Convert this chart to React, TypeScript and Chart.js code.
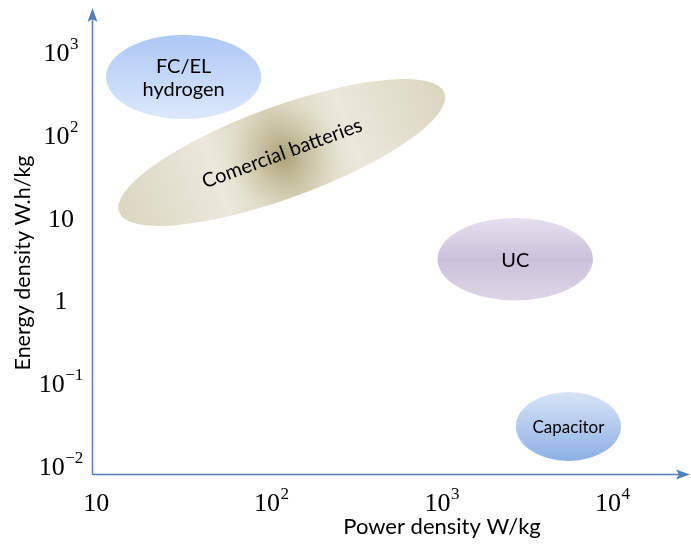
import React, { useEffect, useRef } from "react";
import { Chart, registerables } from "chart.js";

Chart.register(...registerables);

// ---- axis ticks ----
const xTicks = [10, 100, 1000, 10000];
const xTickBases = ["10", "10", "10", "10"];
const xTickExponents = ["", "2", "3", "4"];
const yTicks = [0.01, 0.1, 1, 10, 100, 1000];
const yTickBases = ["10", "10", "1", "10", "10", "10"];
const yTickExponents = ["\u22122", "\u22121", "", "", "2", "3"];

const xTitle = "Power density W/kg";
const yTitle = "Energy density W.h/kg";

// ---- axis ranges (log scales) ----
const xRange = [9.44, 30200];
const yRange = [0.008, 3400];

// ---- regions (Ragone areas) ----
const regionNames = ["FC/EL\nhydrogen", "Comercial batteries", "UC", "Capacitor"];
// power density extent, W/kg (for tilted regions: the two tips of the major axis)
const powerMin = [11.4, 13.6, 1000, 2880];
const powerMax = [92.7, 1100, 8150, 11900];
// energy density extent, W.h/kg
const energyMin = [155, 11.7, 1.0, 0.0115];
const energyMax = [1600, 320, 9.9, 0.078];
// tilted regions: half thickness, in decades of energy density at the centre
const regionTilted = [false, true, false, false];
const energySpreadDecades = [0, 0.59, 0, 0];

const AXIS_COLOR = "#4f81bd";
const SANS = "Lato, 'Liberation Sans', sans-serif";
const SERIF = "'Liberation Serif', 'DejaVu Serif', serif";

const regionStyles = [
  { type: "vertical", stops: [[0, "#adc8f5"], [1, "#dde8fb"]], font: 20 },
  { type: "battery", stops: [], font: 20 },
  { type: "vertical", stops: [[0, "#e6e1ee"], [0.5, "#cbc1db"], [1, "#ddd6e6"]], font: 20 },
  { type: "vertical", stops: [[0, "#d8e4f5"], [1, "#8cb0e4"]], font: 17 },
];

const ragonePlugin = {
  id: "ragone",
  beforeDatasetsDraw(chart: any) {
    const ctx: CanvasRenderingContext2D = chart.ctx;
    const xs = chart.scales.x;
    const ys = chart.scales.y;
    regionNames.forEach((name, i) => {
      const st = regionStyles[i];
      const x1 = xs.getPixelForValue(powerMin[i]);
      const x2 = xs.getPixelForValue(powerMax[i]);
      const y1 = ys.getPixelForValue(energyMin[i]);
      const y2 = ys.getPixelForValue(energyMax[i]);
      const cx = (x1 + x2) / 2;
      const cy = (y1 + y2) / 2;
      let angle = 0;
      ctx.save();
      if (!regionTilted[i]) {
        const rx = Math.abs(x2 - x1) / 2;
        const ry = Math.abs(y2 - y1) / 2;
        const top = Math.min(y1, y2);
        const g = ctx.createLinearGradient(0, top, 0, top + 2 * ry);
        st.stops.forEach((s: any) => g.addColorStop(s[0], s[1]));
        ctx.beginPath();
        ctx.ellipse(cx, cy, rx, ry, 0, 0, Math.PI * 2);
        ctx.fillStyle = g;
        ctx.fill();
      } else {
        const dx = x2 - x1;
        const dy = y2 - y1;
        const a = Math.sqrt(dx * dx + dy * dy) / 2;
        angle = Math.atan2(dy, dx);
        const centreVal = Math.sqrt(energyMin[i] * energyMax[i]);
        const t = Math.abs(
          ys.getPixelForValue(centreVal * Math.pow(10, energySpreadDecades[i])) -
            ys.getPixelForValue(centreVal)
        );
        const b = t * Math.cos(angle);
        ctx.translate(cx, cy);
        ctx.rotate(angle);
        ctx.beginPath();
        ctx.ellipse(0, 0, a, b, 0, 0, Math.PI * 2);
        const lg = ctx.createLinearGradient(-a, 0, a, 0);
        lg.addColorStop(0, "#dbd6c0");
        lg.addColorStop(0.3, "#ebe8dc");
        lg.addColorStop(0.5, "#d8d2b8");
        lg.addColorStop(0.7, "#ebe8dc");
        lg.addColorStop(1, "#dbd6c0");
        ctx.fillStyle = lg;
        ctx.fill();
        ctx.clip();
        const rg = ctx.createRadialGradient(0, 4, 0, 0, 4, 56);
        rg.addColorStop(0, "rgba(160,148,100,0.8)");
        rg.addColorStop(0.5, "rgba(175,165,122,0.4)");
        rg.addColorStop(1, "rgba(190,182,145,0)");
        ctx.fillStyle = rg;
        ctx.fillRect(-a, -b, 2 * a, 2 * b);
        ctx.setTransform(1, 0, 0, 1, 0, 0);
      }
      ctx.restore();

      // label
      ctx.save();
      ctx.translate(cx, cy);
      ctx.rotate(angle);
      ctx.fillStyle = "#000";
      ctx.font = `${st.font}px ${SANS}`;
      ctx.textAlign = "center";
      ctx.textBaseline = "middle";
      const lines = name.split("\n");
      const lh = 23;
      lines.forEach((ln, k) => {
        ctx.fillText(ln, 0, (k - (lines.length - 1) / 2) * lh + 1);
      });
      ctx.restore();
    });
  },
  afterDraw(chart: any) {
    const ctx: CanvasRenderingContext2D = chart.ctx;
    const xs = chart.scales.x;
    const ys = chart.scales.y;
    const area = chart.chartArea;
    const ox = Math.round(area.left) + 0.5;
    const oy = Math.round(area.bottom) + 0.5;
    ctx.save();
    // axes
    ctx.strokeStyle = AXIS_COLOR;
    ctx.fillStyle = AXIS_COLOR;
    ctx.lineWidth = 1.5;
    ctx.beginPath();
    ctx.moveTo(ox, oy);
    ctx.lineTo(ox, area.top + 10);
    ctx.moveTo(ox, oy);
    ctx.lineTo(area.right - 10, oy);
    ctx.stroke();
    // arrow heads
    ctx.beginPath();
    ctx.moveTo(ox, area.top);
    ctx.lineTo(ox - 5, area.top + 14);
    ctx.lineTo(ox, area.top + 11);
    ctx.lineTo(ox + 5, area.top + 14);
    ctx.closePath();
    ctx.fill();
    ctx.beginPath();
    ctx.moveTo(area.right, oy);
    ctx.lineTo(area.right - 14, oy - 5);
    ctx.lineTo(area.right - 11, oy);
    ctx.lineTo(area.right - 14, oy + 5);
    ctx.closePath();
    ctx.fill();

    // tick labels
    ctx.fillStyle = "#000";
    ctx.textBaseline = "alphabetic";
    const baseFont = `26px ${SERIF}`;
    const supFont = `17px ${SERIF}`;
    xTicks.forEach((v, i) => {
      const px = xs.getPixelForValue(v);
      ctx.font = baseFont;
      const w = ctx.measureText(xTickBases[i]).width;
      ctx.textAlign = "left";
      ctx.fillText(xTickBases[i], px - w / 2, 511);
      if (xTickExponents[i]) {
        ctx.font = supFont;
        ctx.fillText(xTickExponents[i], px + w / 2 + 0.5, 499);
      }
    });
    yTicks.forEach((v, i) => {
      const py = ys.getPixelForValue(v);
      ctx.font = baseFont;
      const w = ctx.measureText(yTickBases[i]).width;
      ctx.font = supFont;
      const ws = yTickExponents[i] ? ctx.measureText(yTickExponents[i]).width + 0.5 : 0;
      const left = 61 - (w + ws) / 2;
      ctx.textAlign = "left";
      ctx.font = baseFont;
      ctx.fillText(yTickBases[i], left, py + 9);
      if (yTickExponents[i]) {
        ctx.font = supFont;
        ctx.fillText(yTickExponents[i], left + w + 0.5, py - 3);
      }
    });

    // axis titles
    ctx.textAlign = "center";
    ctx.textBaseline = "middle";
    ctx.font = `22px ${SANS}`;
    ctx.fillText(xTitle, 442, 527);
    ctx.save();
    ctx.translate(23, 263);
    ctx.rotate(-Math.PI / 2);
    ctx.font = `21.5px ${SANS}`;
    ctx.fillText(yTitle, 0, 0);
    ctx.restore();
    ctx.restore();
  },
};

export default function App() {
  const ref = useRef<HTMLCanvasElement | null>(null);
  useEffect(() => {
    if (!ref.current) return;
    const centres = regionNames.map((_, i) => ({
      x: Math.sqrt(powerMin[i] * powerMax[i]),
      y: Math.sqrt(energyMin[i] * energyMax[i]),
    }));
    const chart = new Chart(ref.current, {
      type: "scatter",
      data: {
        datasets: [
          {
            label: "regions",
            data: centres,
            pointRadius: 0,
            pointHoverRadius: 0,
            showLine: false,
          },
        ],
      },
      options: {
        animation: false,
        responsive: false,
        devicePixelRatio: 1,
        events: [],
        layout: { padding: { left: 92, top: 8, right: 1, bottom: 71 } },
        plugins: { legend: { display: false }, tooltip: { enabled: false } },
        scales: {
          x: { type: "logarithmic", min: xRange[0], max: xRange[1], display: false },
          y: { type: "logarithmic", min: yRange[0], max: yRange[1], display: false },
        },
      },
      plugins: [ragonePlugin],
    });
    return () => chart.destroy();
  }, []);
  return (
    <div style={{ position: "fixed", left: 0, top: 0, width: 691, height: 545, background: "#fff" }}>
      <canvas ref={ref} width={691} height={545} style={{ display: "block" }} />
    </div>
  );
}
